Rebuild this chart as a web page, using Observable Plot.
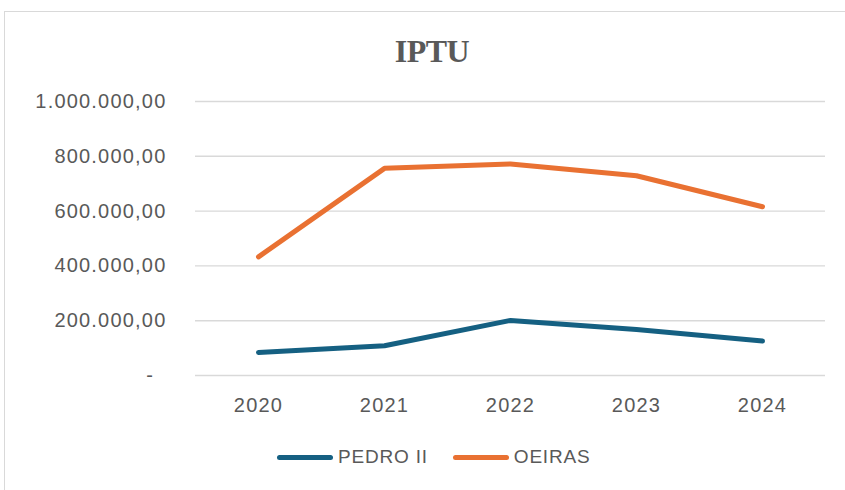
<!DOCTYPE html>
<html>
<head>
<meta charset="utf-8">
<script src="https://cdn.jsdelivr.net/npm/d3@7"></script>
<script src="https://cdn.jsdelivr.net/npm/@observablehq/plot@0.6"></script>
<style>
  html, body { margin: 0; padding: 0; background: #fff; overflow: hidden; }
  #wrap { position: relative; width: 845px; height: 490px; overflow: hidden; background: #fff; }
  #border { position: absolute; left: 4px; top: 11px; width: 900px; height: 600px; border: 1.5px solid #d9d9d9; box-sizing: border-box; }
  #title { position: absolute; left: 0; width: 864px; top: 35px; text-align: center; font-family: "Liberation Serif", serif; font-weight: bold; font-size: 32px; line-height: 32px; color: #595959; letter-spacing: -0.5px; }
  #chart { position: absolute; left: 0; top: 0; }
  #chart svg text { letter-spacing: 1.2px; }
  #legend { position: absolute; left: 277px; top: 446px; display: flex; align-items: center; font-family: "Liberation Sans", Arial, sans-serif; font-size: 19px; color: #595959; letter-spacing: 0.8px; }
  .item { display: flex; align-items: center; margin-right: 25px; }
  .sw { width: 56px; height: 5px; border-radius: 3px; margin-right: 5px; }
</style>
</head>
<body>
<div id="wrap">
  <div id="border"></div>
  <div id="chart"></div>
  <div id="title">IPTU</div>
  <div id="legend"></div>
</div>
<script>
const years = ["2020", "2021", "2022", "2023", "2024"];
const seriesNames = ["PEDRO II", "OEIRAS"];
const seriesColors = ["#156082", "#E97132"];
const pedroII = [84000, 108500, 201000, 168000, 125600];
const oeiras = [432900, 756000, 772000, 729000, 616000];
const yTicks = [0, 200000, 400000, 600000, 800000, 1000000];

const rows = [];
[pedroII, oeiras].forEach((vals, s) => {
  years.forEach((y, i) => rows.push({ year: y, value: vals[i], series: seriesNames[s] }));
});

const loc = d3.formatLocale({ decimal: ",", thousands: ".", grouping: [3], currency: ["", ""] });
const fmt = loc.format(",.2f");
const tickFmt = v => v === 0 ? "-\u2007" : fmt(v);

const plot = Plot.plot({
  width: 845,
  height: 490,
  marginLeft: 195,
  marginRight: 20,
  marginTop: 101,
  marginBottom: 115,
  style: { fontFamily: "'Liberation Sans', Arial, sans-serif", fontSize: "20px", color: "#595959", background: "transparent", overflow: "visible" },
  x: { type: "point", domain: years, padding: 0.5, label: null },
  y: { domain: [0, 1000000], label: null },
  color: { domain: seriesNames, range: seriesColors },
  marks: [
    Plot.ruleY(yTicks, { stroke: "#d9d9d9", strokeWidth: 1.4, strokeOpacity: 1 }),
    Plot.axisY({ ticks: yTicks, tickFormat: tickFmt, tickSize: 0, tickPadding: 29, fill: "#595959" }),
    Plot.axisX({ tickSize: 0, tickPadding: 22, fill: "#595959" }),
    Plot.line(rows, { x: "year", y: "value", z: "series", stroke: "series", strokeWidth: 5, strokeLinecap: "round", strokeLinejoin: "round" })
  ]
});
document.getElementById("chart").appendChild(plot);

const legend = document.getElementById("legend");
seriesNames.forEach((n, i) => {
  const it = document.createElement("div");
  it.className = "item";
  const sw = document.createElement("span");
  sw.className = "sw";
  sw.style.background = seriesColors[i];
  const t = document.createElement("span");
  t.textContent = n;
  it.appendChild(sw);
  it.appendChild(t);
  legend.appendChild(it);
});
</script>
</body>
</html>
